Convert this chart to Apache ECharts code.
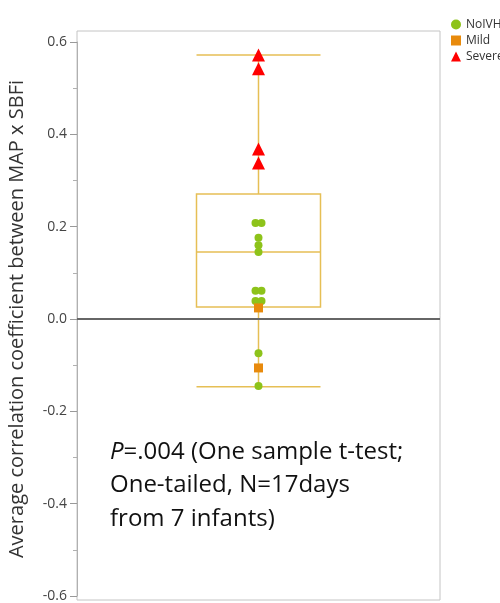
<!DOCTYPE html>
<html>
<head>
<meta charset="utf-8">
<script src="https://cdn.jsdelivr.net/npm/echarts@6/dist/echarts.min.js"></script>
<style>
html,body{margin:0;padding:0;background:#fff;}
#container{width:500px;height:603px;}
</style>
</head>
<body>
<div id="container"></div>
<script>
// box summary: min, q1, median, q3, max
var boxStats = [-0.147, 0.026, 0.145, 0.271, 0.572];
// points per group: [value, x offset in px]
var noIVH = [[0.208,-3],[0.208,3],[0.176,0],[0.160,0],[0.145,0],[0.061,-3],[0.061,3],[0.039,-3],[0.039,3],[-0.074,0],[-0.145,0]];
var mild = [[0.024,0],[-0.106,0]];
var severe = [[0.572,0],[0.542,0],[0.368,0],[0.338,0]];
var groups = ['NoIVH','Mild','Severe'];

var toItems = function(arr){
	return arr.map(function(p){
		return {value:['All',p[0]], symbolOffset:[p[1],0]};
	});
};

var dom = document.getElementById("container");
var myChart = echarts.init(dom);
var option = {
	animation:false,
	legend:{
		orient:'vertical',
		left:446,
		top:13,
		itemWidth:10,
		itemHeight:10,
		itemGap:3,
		textStyle:{fontSize:12,lineHeight:13,color:'#333',fontFamily:'Open Sans'},
		data:groups
	},
	grid:{left:77,right:60,top:42,bottom:7,containLabel:false,outerBoundsMode:'none'},
	xAxis:{
		type:'category',
		data:['All'],
		show:false
	},
	yAxis:{
		type:'value',
		min:-0.6,
		max:0.6,
		interval:0.2,
		name:'Average correlation coefficient between MAP x SBFi',
		nameLocation:'middle',
		nameRotate:90,
		nameGap:50,
		nameTextStyle:{fontSize:20,color:'#333',fontFamily:'Open Sans'},
		axisLine:{show:true,lineStyle:{color:'#b0b0b0'}},
		axisTick:{show:true,length:7,lineStyle:{color:'#999'}},
		minorTick:{show:true,splitNumber:2,length:4,lineStyle:{color:'#b0b0b0'}},
		splitLine:{show:false},
		axisLabel:{
			fontSize:14,color:'#444',fontFamily:'Open Sans',margin:10,
			formatter:function(v){return v.toFixed(1);}
		}
	},
	graphic:[
		{type:'rect',shape:{x:77,y:31,width:363,height:569},style:{fill:'none',stroke:'#c4c4c4',lineWidth:1},z:-1},
		{type:'text',left:110,top:440,style:{
			rich:{i:{fontStyle:'italic',fontSize:24,fontFamily:'Open Sans',fill:'#111'},n:{fontSize:24,fontFamily:'Open Sans',fill:'#111'}},
			text:'{i|P}{n|=.004 (One sample t-test;}'
		}},
		{type:'text',left:110,top:473,style:{text:'One-tailed, N=17days',fontSize:24,fontFamily:'Open Sans',fill:'#111'}},
		{type:'text',left:110,top:507,style:{text:'from 7 infants)',fontSize:24,fontFamily:'Open Sans',fill:'#111'}}
	],
	series:[
		{
			name:'box',
			type:'boxplot',
			boxWidth:[124,124],
			itemStyle:{color:'rgba(0,0,0,0)',borderColor:'#E6BF55',borderWidth:1.5},
			data:[boxStats],
			z:2
		},
		{
			name:'NoIVH',
			type:'scatter',
			symbol:'circle',
			symbolSize:8,
			itemStyle:{color:'#8DC31A',opacity:1},
			data:toItems(noIVH),
			z:3,
			markLine:{
				silent:true,
				symbol:'none',
				label:{show:false},
				lineStyle:{color:'#666',width:2,type:'solid'},
				data:[{yAxis:0}]
			}
		},
		{
			name:'Mild',
			type:'scatter',
			symbol:'rect',
			symbolSize:9,
			itemStyle:{color:'#E88A0C',opacity:1},
			data:toItems(mild),
			z:4
		},
		{
			name:'Severe',
			type:'scatter',
			symbol:'triangle',
			symbolSize:13,
			itemStyle:{color:'#FF0000',opacity:1},
			data:toItems(severe),
			z:5
		}
	]
};
myChart.setOption(option, true);
</script>
</body>
</html>
